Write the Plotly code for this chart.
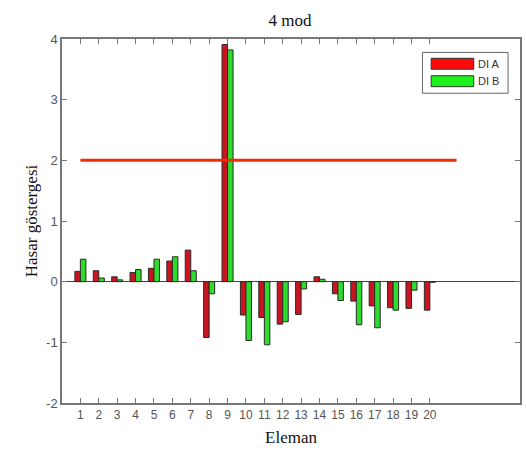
import plotly.graph_objects as go

elements = list(range(1, 21))
di_a = [0.17, 0.18, 0.08, 0.15, 0.22, 0.34, 0.52, -0.92, 3.91, -0.55,
        -0.59, -0.70, -0.54, 0.08, -0.20, -0.32, -0.40, -0.43, -0.44, -0.47]
di_b = [0.37, 0.06, 0.03, 0.20, 0.37, 0.41, 0.18, -0.20, 3.82, -0.97,
        -1.04, -0.66, -0.12, 0.04, -0.31, -0.71, -0.76, -0.47, -0.14, -0.01]
threshold_x = [1, 21.45]
threshold_y = [2, 2]
y_ticks = [-2, -1, 0, 1, 2, 3, 4]
y_ticklabels = ["-2", "-1", "0", "1", "2", "3", "4"]

RED = "#cc1420"
GREEN = "#2edc2e"
GREY = "#555555"
AXIS = "#777777"

fig = go.Figure()
fig.add_trace(go.Bar(x=elements, y=di_a, name="DI A", marker=dict(color=RED, line=dict(color="#2a2a2a", width=1)), showlegend=False))
fig.add_trace(go.Bar(x=elements, y=di_b, name="DI B", marker=dict(color=GREEN, line=dict(color="#2a2a2a", width=1)), showlegend=False))
fig.add_trace(go.Scatter(x=threshold_x, y=threshold_y, mode="lines", line=dict(color="#f22a05", width=3), showlegend=False, hoverinfo="skip"))

fig.update_layout(
    width=526, height=456,
    margin=dict(l=62, r=4, t=39, b=53),
    paper_bgcolor="white", plot_bgcolor="white",
    barmode="group", bargap=0.4, bargroupgap=0,
    showlegend=False,
    title=dict(text="4 mod", x=290 / 526, xanchor="center", y=1 - 20 / 456, yanchor="middle",
               font=dict(family="Liberation Serif", size=17, color="#111111")),
    font=dict(family="Liberation Sans", size=12, color=GREY),
)
fig.update_xaxes(
    range=[0, 24.9], tickvals=elements, ticktext=[str(e) for e in elements],
    ticks="inside", ticklen=5, tickcolor=AXIS, showline=True, linecolor=AXIS, linewidth=1.5,
    mirror="ticks", showgrid=False, zeroline=False,
    tickfont=dict(family="Liberation Sans", size=12, color=GREY),
    title=dict(text="Eleman", font=dict(family="Liberation Serif", size=17, color="#111111"), standoff=10),
)
fig.update_yaxes(
    range=[-2, 4], tickvals=y_ticks, ticktext=y_ticklabels, ticks="inside", ticklen=5, tickcolor=AXIS,
    showline=True, linecolor=AXIS, linewidth=1.5, mirror="ticks", showgrid=False,
    zeroline=True, zerolinecolor="#444444", zerolinewidth=1,
    tickfont=dict(family="Liberation Sans", size=13, color=GREY),
    title=dict(text="Hasar göstergesi", font=dict(family="Liberation Serif", size=17, color="#111111"), standoff=4),
)

# manual legend
fig.add_shape(type="rect", xref="paper", yref="paper", x0=0.787, x1=0.974, y0=0.851, y1=0.963,
              line=dict(color="#666666", width=1), fillcolor="white")
fig.add_shape(type="rect", xref="paper", yref="paper", x0=0.806, x1=0.899, y0=0.917, y1=0.947,
              line=dict(color="#333333", width=1), fillcolor="#ff0a0a")
fig.add_shape(type="rect", xref="paper", yref="paper", x0=0.806, x1=0.899, y0=0.869, y1=0.899,
              line=dict(color="#333333", width=1), fillcolor="#1cf21c")
fig.add_annotation(xref="paper", yref="paper", x=0.905, y=0.932, text="DI A", showarrow=False,
                   xanchor="left", yanchor="middle", font=dict(family="Liberation Sans", size=11, color="#333333"))
fig.add_annotation(xref="paper", yref="paper", x=0.905, y=0.884, text="DI B", showarrow=False,
                   xanchor="left", yanchor="middle", font=dict(family="Liberation Sans", size=11, color="#333333"))

fig.write_html("out.html")
